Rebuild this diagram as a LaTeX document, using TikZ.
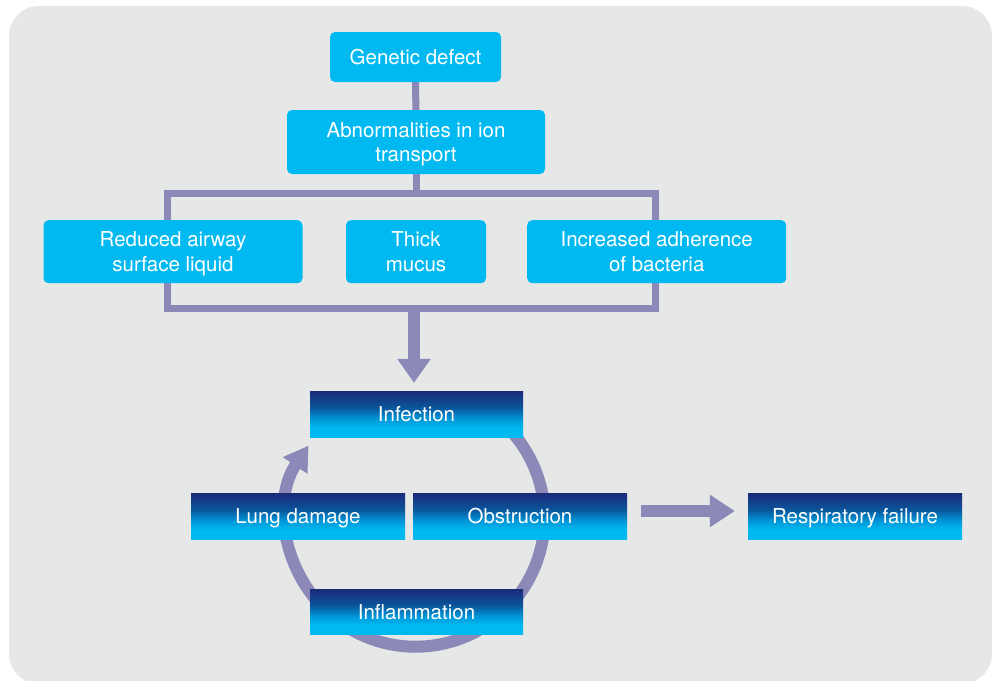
\documentclass[tikz,border=0pt]{standalone}
\usepackage{fontspec}
\setmainfont{TeX Gyre Heros}
\usetikzlibrary{arrows.meta,calc}
\definecolor{cyanb}{RGB}{0,185,240}
\definecolor{navyb}{RGB}{27,42,120}
\definecolor{midb}{RGB}{10,85,155}
\definecolor{lightb}{RGB}{0,150,215}
\definecolor{purp}{RGB}{140,137,184}
\definecolor{bgc}{RGB}{230,231,231}
\pgfdeclareverticalshading{boxgrad}{100bp}{color(0bp)=(cyanb); color(35bp)=(cyanb); color(45bp)=(lightb); color(57bp)=(midb); color(75bp)=(navyb); color(100bp)=(navyb)}
\pgfdeclarelayer{back}
\pgfsetlayers{back,main}
\begin{document}
\begin{tikzpicture}[x=1pt,y=-1pt,
  font=\fontsize{20.5}{24.5}\selectfont,
  cbox/.style={fill=cyanb, rounded corners=5pt, text=white, align=center, inner sep=0pt, text depth=0pt},
  gbox/.style={shading=boxgrad, text=white, align=center, inner sep=0pt, minimum width=214pt, minimum height=46pt, text height=15pt, text depth=0pt},
  pline/.style={draw=purp, line width=7pt},
  bigarrow/.style={draw=purp, line width=12pt, -{Triangle[width=32pt,length=24pt]}}
]
\useasboundingbox (0,0) rectangle (1000,680);
% nodes
\node[cbox, minimum width=171pt, minimum height=50pt, text height=15pt] (gen) at (415.5,57) {Genetic defect};
\node[cbox, minimum width=258pt, minimum height=64pt] (abn) at (416,142) {Abnormalities in ion\\transport};
\node[cbox, minimum width=259pt, minimum height=63pt] (red) at (173,251.7) {Reduced airway\\surface liquid};
\node[cbox, minimum width=140pt, minimum height=63pt] (thick) at (416,251.7) {Thick\\mucus};
\node[cbox, minimum width=259pt, minimum height=63pt] (inc) at (656.7,251.7) {Increased adherence\\of bacteria};
\node[gbox, minimum width=213pt] (inf) at (416.5,414) {Infection};
\node[gbox] (lung) at (298,516) {Lung damage};
\node[gbox] (obs) at (520,516) {Obstruction};
\node[gbox, minimum width=213pt, minimum height=45pt] (infl) at (416.5,611.5) {Inflammation};
\node[gbox] (resp) at (855,516) {Respiratory failure};
\coordinate (brtop) at (416,193.5);
\coordinate (brbot) at (414,308.5);
\coordinate (cc) at (415.5,517.7);
\begin{pgfonlayer}{back}
\fill[bgc] (9,6) [rounded corners=30pt] rectangle (992,684);
\draw[pline] (gen) -- (abn);
\draw[pline] (abn.south) -- (brtop);
\draw[pline] (167.5,193.5) rectangle (655,308.5);
\draw[bigarrow, shorten >=8pt] (brbot) -- (brbot |- inf.north);
\draw[draw=purp, line width=12pt, -{Triangle[width=28pt,length=24pt]}]
  (cc) ++(50:129pt) arc[start angle=50, end angle=-214, radius=129pt];
\draw[draw=purp, line width=12.5pt, -{Triangle[width=31pt,length=25pt]}]
  ([xshift=14pt,yshift=5pt]obs.east) -- ([xshift=-13pt,yshift=5pt]resp.west);
\end{pgfonlayer}
\end{tikzpicture}
\end{document}
